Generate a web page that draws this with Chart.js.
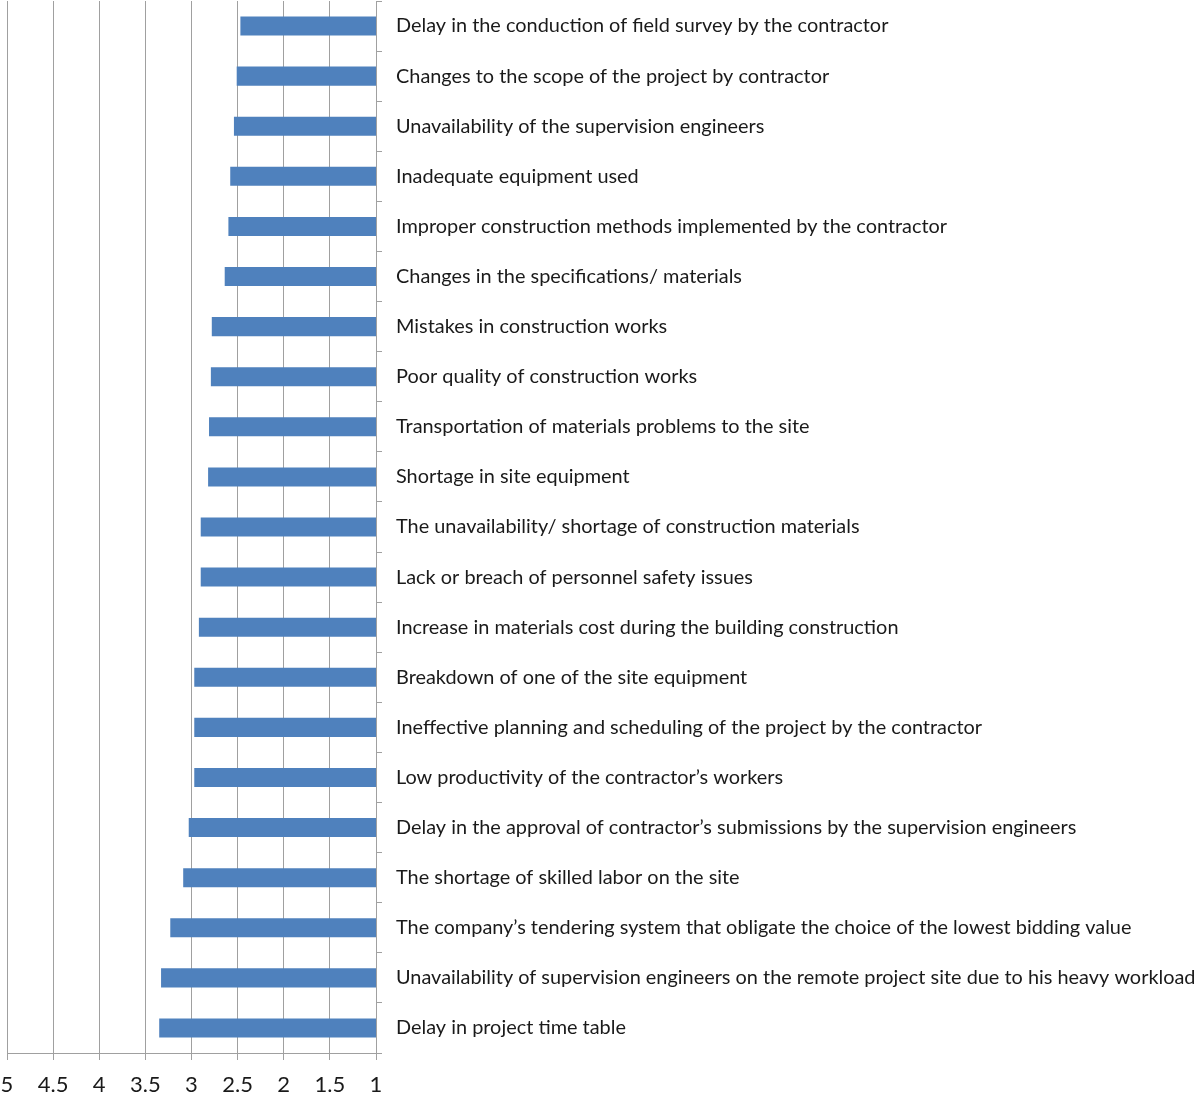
<!DOCTYPE html>
<html>
<head>
<meta charset="utf-8">
<script src="https://cdn.jsdelivr.net/npm/chart.js@4/dist/chart.umd.min.js"></script>
<style>
  html, body { margin: 0; padding: 0; background: #fff; }
  #wrap { width: 1200px; height: 1099px; }
</style>
</head>
<body>
<div id="wrap"><canvas id="graph-factors"></canvas></div>
<script>
// Categorias (de cima para baixo)
const factorLabels = [
    'Delay in the conduction of field survey by the contractor',
    'Changes to the scope of the project by contractor',
    'Unavailability of the supervision engineers',
    'Inadequate equipment used',
    'Improper construction methods implemented by the contractor',
    'Changes in the specifications/ materials',
    'Mistakes in construction works',
    'Poor quality of construction works',
    'Transportation of materials problems to the site',
    'Shortage in site equipment',
    'The unavailability/ shortage of construction materials',
    'Lack or breach of personnel safety issues',
    'Increase in materials cost during the building construction',
    'Breakdown of one of the site equipment',
    'Ineffective planning and scheduling of the project by the contractor',
    'Low productivity of the contractor\u2019s workers',
    'Delay in the approval of contractor\u2019s submissions by the supervision engineers',
    'The shortage of skilled labor on the site',
    'The company\u2019s tendering system that obligate the choice of the lowest bidding value',
    'Unavailability of supervision engineers on the remote project site due to his heavy workload',
    'Delay in project time table'
];

// Valores
const factorValues = [
    2.47, 2.51, 2.54, 2.58, 2.60, 2.64, 2.78, 2.79, 2.81, 2.82,
    2.90, 2.90, 2.92, 2.97, 2.97, 2.97, 3.03, 3.09, 3.23, 3.33, 3.35
];

// Eixo x (invertido: 5 à esquerda, 1 à direita)
const axisMin = 1;
const axisMax = 5;
const axisStep = 0.5;

var ctx = document.getElementById('graph-factors').getContext('2d');
var myChart = new Chart(ctx, {
    type: 'bar',
    data: {
        labels: factorLabels,
        datasets: [{
            data: factorValues.map(v => [axisMin, v]),
            backgroundColor: '#4f81bd',
            borderWidth: 0,
            barPercentage: 0.38,
            categoryPercentage: 1
        }]
    },
    options: {
        indexAxis: 'y',
        responsive: true,
        maintainAspectRatio: false,
        animation: false,
        layout: { padding: { top: 1, left: 0, right: 0, bottom: 0 } },
        plugins: { legend: { display: false }, tooltip: { enabled: false } },
        scales: {
            x: {
                type: 'linear',
                reverse: true,
                min: axisMin,
                max: axisMax,
                ticks: {
                    stepSize: axisStep,
                    color: '#1a1a1a',
                    font: { family: 'Lato', size: 22 },
                    padding: 12,
                    maxRotation: 0,
                    callback: function(value) { return String(value); }
                },
                grid: { color: '#a0a0a0', lineWidth: 1, tickLength: 7 },
                border: { color: '#a0a0a0' },
                afterFit: function(scale) {
                    scale.height = 46;
                    scale.paddingLeft = 7;
                }
            },
            y: {
                position: 'right',
                ticks: {
                    color: '#1a1a1a',
                    font: { family: 'Lato', size: 19.9 },
                    padding: 14,
                    autoSkip: false
                },
                grid: { drawOnChartArea: false, color: '#a0a0a0', tickLength: 6, offset: true },
                border: { color: '#a0a0a0' },
                afterFit: function(scale) {
                    scale.width = 824;
                    scale.paddingTop = 0;
                    scale.paddingBottom = 0;
                }
            }
        }
    }
});
</script>
</body>
</html>
